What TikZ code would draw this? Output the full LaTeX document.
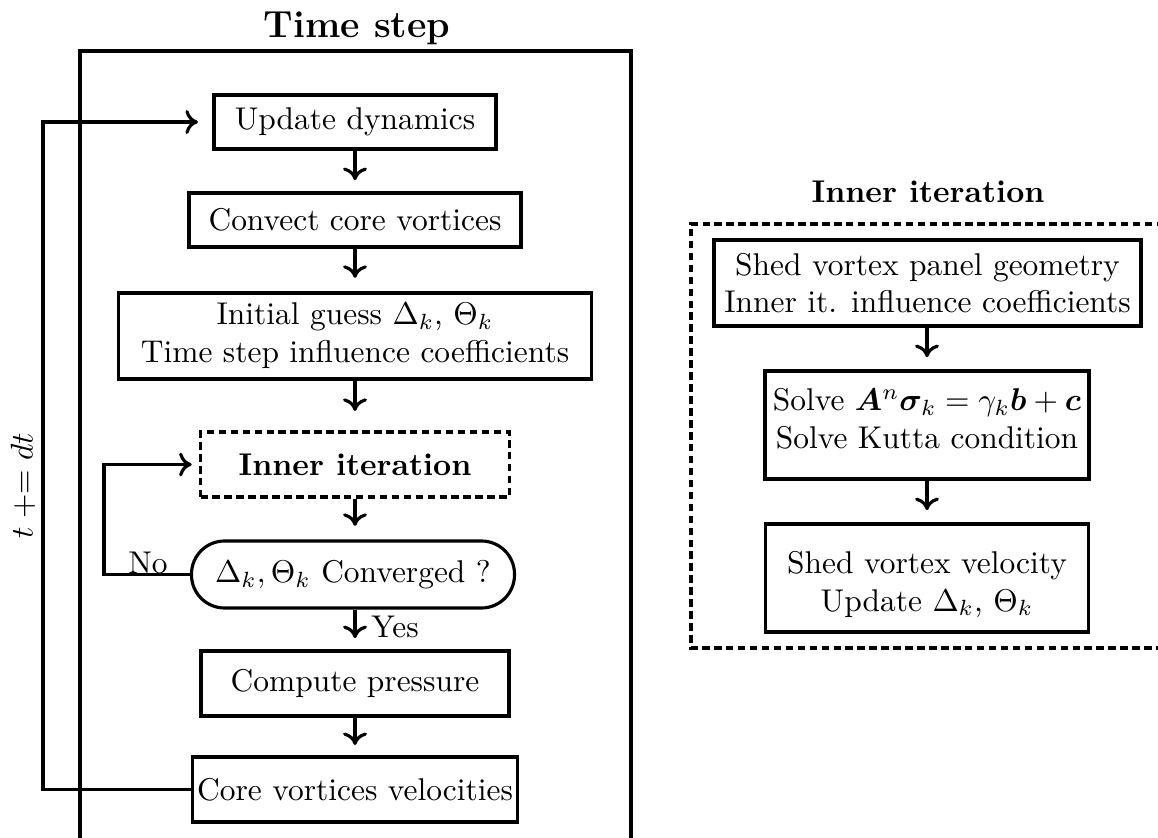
\documentclass[tikz,border=0pt]{standalone}
\usepackage{bm}
\usetikzlibrary{arrows.meta}
\newcommand\pxu{0.318pt}
\tikzset{
  box/.style={draw, line width=1pt, align=center, inner xsep=1.5pt, inner ysep=3pt},
  dashbox/.style={line width=1pt, dash pattern=on 2.4pt off 1.4pt},
  arr/.style={line width=1pt, -{To[length=4pt,width=7.6pt]}},
  frame/.style={line width=1pt},
}
\begin{document}
\begin{tikzpicture}[x=\pxu, y=-\pxu]
\useasboundingbox (0,0) rectangle (1158,838);
\clip (0,0) rectangle (1158,838);

% ---------- Time step ----------
\node[font=\large\bfseries, anchor=base] (tstitle) at (357,38) {Time step};
\draw[frame] (80,900) -- (80,51) -- (631,51) -- (631,900);

\node[box, minimum width=282*\pxu, minimum height=54*\pxu] (upd) at (355,122) {Update dynamics};
\node[box, minimum width=332*\pxu, minimum height=54*\pxu] (conv) at (355,220) {Convect core vortices};
\node[box, minimum width=473*\pxu, minimum height=86*\pxu] (init) at (355,336) {Initial guess $\Delta_k$, $\Theta_k$\\Time step influence coefficients};
\node[box, dashbox, font=\bfseries, minimum width=309*\pxu, minimum height=65*\pxu] (inner) at (355,464.5) {Inner iteration};
\node[box, rounded corners=10.5pt, minimum width=323*\pxu, minimum height=67*\pxu] (convq) at (353,574.5) {$\Delta_k, \Theta_k$ Converged ?};
\node[box, minimum width=308*\pxu, minimum height=65*\pxu] (comp) at (355,683.5) {Compute pressure};
\node[box, minimum width=324*\pxu, minimum height=65*\pxu] (core) at (355,789.5) {Core vortices velocities};

\draw[arr, shorten >=3.6pt] (upd) -- (conv);
\draw[arr, shorten >=4.3pt] (conv) -- (init);
\draw[arr, shorten >=6.2pt] (init) -- (inner);
\draw[arr, shorten >=4.3pt] (inner.south) -- (inner.south |- convq.north);
\draw[arr, shorten >=3.6pt] (convq.south -| comp) -- (comp.north);
\draw[arr, shorten >=3.3pt] (comp) -- (core);

\node (yeslbl) at (395,627) {Yes};
\node (nolbl) at (148,563) {No};
\coordinate (nl) at (104,0);
\draw[arr, shorten >=2.3pt] (convq.west) -- (convq.west -| nl) -- (inner.west -| nl) -- (inner.west);

\coordinate (lp) at (43,0);
\draw[arr, shorten >=4.6pt] (core.west) -- (core.west -| lp) -- (upd.west -| lp) -- (upd.west);
\node[rotate=90] (tdt) at (23,486) {$t \mathrel{+}= dt$};

% ---------- Inner iteration ----------
\node[font=\bfseries, anchor=base] (ititle) at (928,203) {Inner iteration};
\draw[dashbox] (1200,224) -- (691,224) -- (691,648) -- (1200,648);

\node[box, minimum width=427*\pxu, minimum height=86*\pxu] (shed) at (927.5,283) {Shed vortex panel geometry\\Inner it. influence coefficients};
\node[box, minimum width=324*\pxu, minimum height=108*\pxu] (solve) at (927,425) {Solve $\bm{A}^n\bm{\sigma}_k = \gamma_k\bm{b}+\bm{c}$\\Solve Kutta condition\rule[-4pt]{0pt}{4pt}};
\node[box, minimum width=323*\pxu, minimum height=108*\pxu] (vel) at (927,578) {\rule{0pt}{11pt}Shed vortex velocity\\Update $\Delta_k$, $\Theta_k$};

\draw[arr, shorten >=3.9pt] (shed.south -| solve) -- (solve.north);
\draw[arr, shorten >=3.9pt] (solve) -- (vel);
\end{tikzpicture}
\end{document}
